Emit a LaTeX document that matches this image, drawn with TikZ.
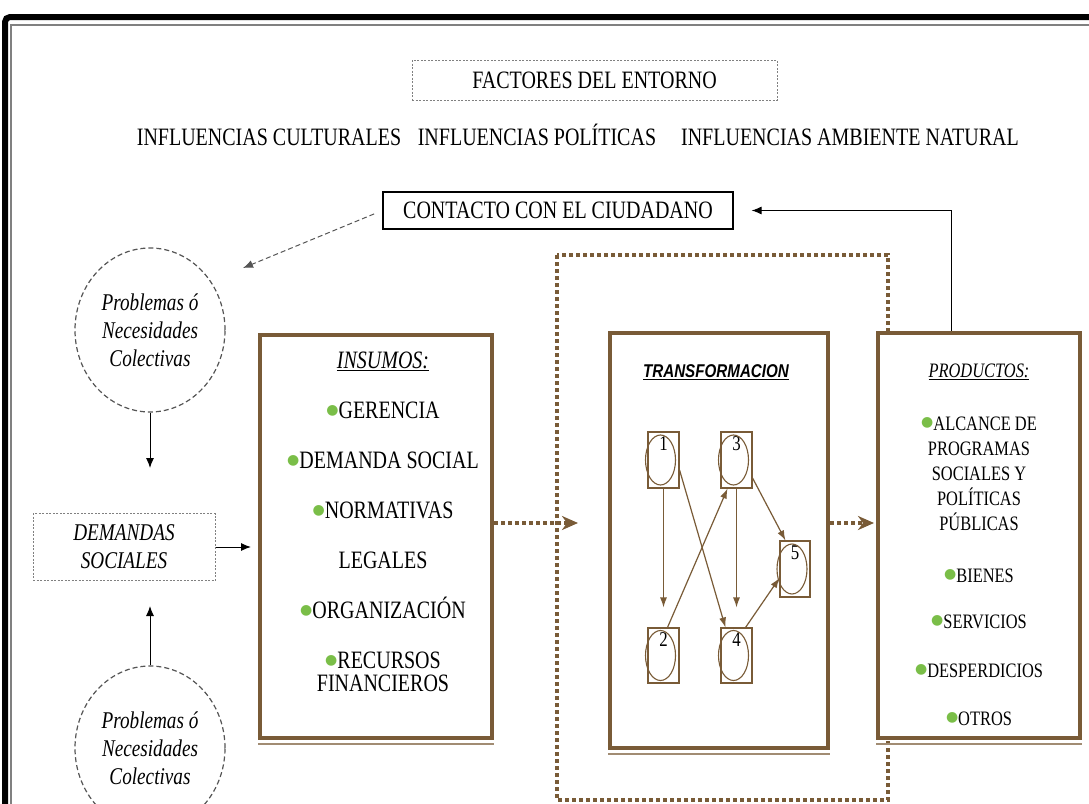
\documentclass[tikz,border=0pt]{standalone}
\usepackage{fontspec}
\setmainfont{Liberation Serif}[FakeStretch=0.8]
\newfontfamily\tsans{Liberation Sans}[FakeStretch=0.82]
\newfontfamily\symfont{DejaVu Sans}
\usepackage{xcolor}
\usetikzlibrary{arrows.meta, positioning, shapes.geometric}
\definecolor{brn}{RGB}{121,91,55}
\definecolor{leaf}{RGB}{122,190,72}
\definecolor{dgray}{RGB}{85,85,85}
\newcommand{\gdot}{\raisebox{3.5pt}{\symfont\fontsize{14}{14}\selectfont\textcolor{leaf}{●}}}

\begin{document}
\begin{tikzpicture}[x=1pt, y=-1pt,
    bigbox/.style={draw=brn, line width=4pt, fill=white},
    subbox/.style={draw=brn, line width=1.1pt, minimum width=31pt, minimum height=56pt, inner sep=0pt},
    dotbox/.style={draw=gray, line width=1pt, dash pattern=on 2pt off 1.5pt},
    dashcirc/.style={ellipse, draw=dgray, line width=1.2pt, dash pattern=on 5pt off 3pt,
        minimum width=150pt, minimum height=164pt, align=center,
        font=\itshape\fontsize{24}{28}\selectfont},
    brdots/.style={draw=brn, line width=4pt, dash pattern=on 4pt off 3pt},
    flow/.style={brdots, -{Stealth[length=16pt, width=14pt, inset=5pt]}},
    link/.style={line width=1pt, -{Latex[length=10pt, width=8pt]}},
    tlink/.style={draw=brn, line width=1.2pt, -{Latex[length=10pt, width=7pt]}},
    num/.style={anchor=north, inner sep=0pt, yshift=-5pt, font=\fontsize{21}{21}\selectfont},
    txt/.style={font=\fontsize{25}{28}\selectfont}]
    \useasboundingbox (0,0) rectangle (1089,803);
    \clip (0,0) rectangle (1089,803);

    % Frame
    \draw[line width=6pt, rounded corners=5pt] (5,830) -- (5,17) -- (1110,17);
    \draw[gray, line width=1.2pt] (11,830) -- (11,25) -- (1110,25);

    % Entorno
    \node[dotbox, txt, minimum width=365pt, minimum height=40pt] (fact) at (594.5,80) {FACTORES DEL ENTORNO};
    \node[txt, anchor=base] (cult) at (269,145) {INFLUENCIAS CULTURALES};
    \node[txt, anchor=base] (poli) at (537,145) {INFLUENCIAS POLÍTICAS};
    \node[txt, anchor=base] (amb) at (850,145) {INFLUENCIAS AMBIENTE NATURAL};
    \node[draw, line width=1.2pt, txt, minimum width=350pt, minimum height=37pt] (cont) at (558,210.5) {CONTACTO CON EL CIUDADANO};
    \coordinate (ret) at (243,268);

    % Left column
    \node[dashcirc] (c1) at (150,330) {Problemas ó\\Necesidades\\Colectivas};
    \node[dashcirc] (c2) at (150,748) {Problemas ó\\Necesidades\\Colectivas};
    \node[dotbox, align=center, minimum width=182pt, minimum height=67pt,
        font=\itshape\fontsize{24}{28}\selectfont] (dem) at (124,547) {DEMANDAS\\SOCIALES};

    % Big dotted loop (behind the boxes)
    \draw[brdots] (557,255) rectangle (888,800);

    % Insumos
    \node[bigbox, minimum width=232pt, minimum height=403pt] (ins) at (376,536.5) {};
    \node[anchor=base, align=center, font=\fontsize{25}{50}\selectfont] (instxt) at (383,691)
        {\underline{\textit{INSUMOS:}}\\
         \gdot GERENCIA\\
         \gdot DEMANDA SOCIAL\\
         \gdot NORMATIVAS\\
         LEGALES\\
         \gdot ORGANIZACIÓN\\
         \gdot RECURSOS\\[-27pt]
         FINANCIEROS};

    % Transformacion
    \node[bigbox, minimum width=218pt, minimum height=415pt] (trans) at (719,540.5) {};
    \node[font=\tsans\bfseries\itshape\fontsize{18.5}{22}\selectfont] (ttl) at (716,372) {\underline{TRANSFORMACION}};
    \node[subbox, label={[num]north:1}] (t1) at (663.5,460) {};
    \node[subbox, label={[num]north:3}] (t3) at (736.5,460) {};
    \node[subbox, minimum width=30pt, label={[num]north:5}] (t5) at (795,569) {};
    \node[subbox, minimum height=55pt, label={[num]north:2}] (t2) at (663.5,655.5) {};
    \node[subbox, minimum height=55pt, label={[num]north:4}] (t4) at (736.5,655.5) {};
    \foreach \n in {t1,t2,t3,t4,t5}
        \draw[brn, line width=1.1pt] ([xshift=-3pt]\n.center) ellipse (15pt and 25pt);
    \draw[tlink, shorten >=20pt] (t1.south) -- (t2.north);
    \draw[tlink] ([yshift=-10pt]t1.east) -- ([xshift=5pt]t4.north west);
    \draw[tlink] ([xshift=4pt]t2.north) -- ([xshift=-9pt]t3.south);
    \draw[tlink, shorten >=20pt] (t3.south) -- (t4.north);
    \draw[tlink] ([yshift=-18pt]t3.east) -- ([xshift=6pt]t5.north west);
    \draw[tlink] ([xshift=-7pt]t4.north east) -- ([yshift=-9pt]t5.west);

    % Productos
    \node[bigbox, minimum width=202pt, minimum height=405pt] (prod) at (979,535.5) {};
    \node[anchor=base, align=center, font=\fontsize{20.5}{25}\selectfont] (prodtxt) at (979,725)
        {\underline{\textit{PRODUCTOS:}}\\[28pt]
         \gdot ALCANCE DE\\
         PROGRAMAS\\
         SOCIALES Y\\
         POLÍTICAS\\
         PÚBLICAS\\[27pt]
         \gdot BIENES\\[21pt]
         \gdot SERVICIOS\\[24pt]
         \gdot DESPERDICIOS\\[23pt]
         \gdot OTROS};

    % Box shadows
    \foreach \b in {ins,trans,prod}
        \draw[brn!70, line width=2pt] ([yshift=-4pt]\b.south west) -- ([yshift=-4pt]\b.south east);

    % Connectors
    \draw[link, dgray, dash pattern=on 5pt off 3pt, shorten <=9pt] (cont.west) -- (ret);
    \draw[link] ([xshift=-28pt]prod.north) |- ([xshift=18pt]cont.east);
    \draw[link, shorten >=45pt] (c1.south) -- (c1.south |- dem.north);
    \draw[link, shorten >=25pt] (c2.north) -- (c2.north |- dem.south);
    \draw[link, shorten >=7pt] (dem.east) -- (ins.west |- dem.east);
    \draw[flow, shorten >=30pt] ([yshift=13.5pt]ins.east) -- ([yshift=17.5pt]trans.west);
    \draw[flow, shorten >=2pt] ([yshift=17.5pt]trans.east) -- ([yshift=12.5pt]prod.west);
\end{tikzpicture}
\end{document}
